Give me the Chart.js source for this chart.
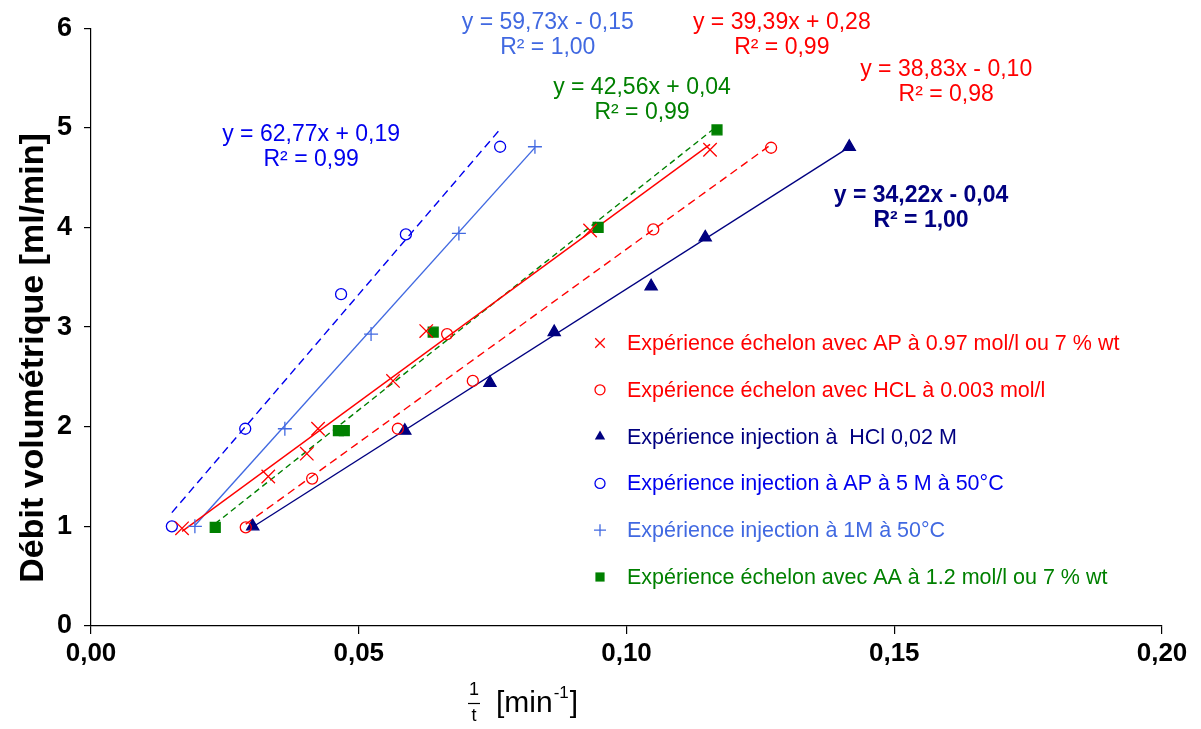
<!DOCTYPE html>
<html><head><meta charset="utf-8">
<script src="https://cdn.jsdelivr.net/npm/chart.js@4.4.1/dist/chart.umd.min.js"></script>
<style>html,body{margin:0;padding:0;background:#fff;}#wrap{width:1201px;height:729px;}</style>
</head><body><div id="wrap"><canvas id="c" width="1201" height="729"></canvas></div>
<script>
// ---- data ----
const seriesNames = [
  "Expérience échelon avec AP à 0.97 mol/l ou 7 % wt",
  "Expérience échelon avec HCL à 0.003 mol/l",
  "Expérience injection à  HCl 0,02 M",
  "Expérience injection à AP à 5 M à 50°C",
  "Expérience injection à 1M à 50°C",
  "Expérience échelon avec AA à 1.2 mol/l ou 7 % wt"
];
const xAP   = [0.0170, 0.0331, 0.0403, 0.0424, 0.0564, 0.0626, 0.0932, 0.1156];
const yAP   = [0.98, 1.50, 1.73, 1.98, 2.46, 2.96, 3.97, 4.78];
const xHCL  = [0.0289, 0.0413, 0.0573, 0.0665, 0.0713, 0.1050, 0.1270];
const yHCL  = [0.99, 1.48, 1.98, 2.93, 2.46, 3.98, 4.80];
const xHCl  = [0.0302, 0.0586, 0.0745, 0.0865, 0.1046, 0.1147, 0.1416];
const yHCl  = [1.00, 1.96, 2.44, 2.95, 3.41, 3.90, 4.81];
const xAP5  = [0.0151, 0.0288, 0.0467, 0.0588, 0.0764];
const yAP5  = [1.00, 1.98, 3.33, 3.93, 4.81];
const x1M   = [0.0194, 0.0362, 0.0523, 0.0687, 0.0829];
const y1M   = [1.00, 1.98, 2.93, 3.94, 4.81];
const xAA   = [0.0232, 0.0462, 0.0473, 0.0639, 0.0947, 0.1169];
const yAA   = [0.99, 1.96, 1.96, 2.95, 4.00, 4.98];
const slopes     = [39.39, 38.83, 34.22, 62.77, 59.73, 42.56];
const intercepts = [0.28, -0.10, -0.04, 0.19, -0.15, 0.04];
const r2Values   = [0.99, 0.98, 1.00, 0.99, 1.00, 0.99];
const xTickValues = [0, 0.05, 0.10, 0.15, 0.20];
const yTickValues = [0, 1, 2, 3, 4, 5, 6];

// ---- styles ----
const colors = ['#ff0000', '#ff0000', '#000080', '#0000ee', '#4169e1', '#008000'];
const styles = [
  {pointStyle:'crossRot', radius:9.5, fill:false, dash:[]},
  {pointStyle:'circle', radius:5.5, fill:false, dash:[8,5]},
  {pointStyle:'triangle', radius:7, fill:true, dash:[]},
  {pointStyle:'circle', radius:5.5, fill:false, dash:[8,5]},
  {pointStyle:'cross', radius:7, fill:false, dash:[]},
  {pointStyle:'rect', radius:7, fill:true, dash:[6,4]}
];
const xs = [xAP, xHCL, xHCl, xAP5, x1M, xAA];
const ys = [yAP, yHCL, yHCl, yAP5, y1M, yAA];
// annotation anchors (data units) for equation labels
const annX = [0.1290, 0.1597, 0.1550, 0.0411, 0.0853, 0.1029];
const annY = [6.06, 5.58, 4.32, 4.93, 6.06, 5.40];
const annBold = [false, false, true, false, false, false];

const fmt = v => v.toFixed(2).replace('.', ',');
function eqText(i){
  const b = intercepts[i];
  return 'y = ' + fmt(slopes[i]) + 'x ' + (b < 0 ? '- ' : '+ ') + fmt(Math.abs(b));
}

const datasets = [];
for (let i = 0; i < 6; i++) {
  const xmin = Math.min(...xs[i]), xmax = Math.max(...xs[i]);
  datasets.push({
    label: 'trend' + i,
    data: [{x:xmin, y:slopes[i]*xmin+intercepts[i]}, {x:xmax, y:slopes[i]*xmax+intercepts[i]}],
    showLine: true, pointRadius: 0, borderColor: colors[i], borderWidth: 1.4,
    borderDash: styles[i].dash, fill: false, order: 2
  });
}
for (let i = 0; i < 6; i++) {
  datasets.push({
    label: seriesNames[i],
    data: xs[i].map((x, k) => ({x, y: ys[i][k]})),
    showLine: false,
    pointStyle: styles[i].pointStyle,
    pointRadius: styles[i].radius,
    pointHoverRadius: styles[i].radius,
    borderColor: colors[i],
    backgroundColor: styles[i].fill ? colors[i] : 'rgba(0,0,0,0)',
    pointBorderWidth: 1.3,
    order: 1
  });
}

function drawMarker(ctx, style, color, x, y, r) {
  ctx.save();
  ctx.strokeStyle = color; ctx.fillStyle = color; ctx.lineWidth = 1.3;
  ctx.beginPath();
  if (style === 'crossRot') {
    const d = r * 0.7071;
    ctx.moveTo(x-d, y-d); ctx.lineTo(x+d, y+d); ctx.moveTo(x+d, y-d); ctx.lineTo(x-d, y+d); ctx.stroke();
  } else if (style === 'cross') {
    ctx.moveTo(x-r, y); ctx.lineTo(x+r, y); ctx.moveTo(x, y-r); ctx.lineTo(x, y+r); ctx.stroke();
  } else if (style === 'circle') {
    ctx.arc(x, y, r, 0, Math.PI*2); ctx.stroke();
  } else if (style === 'triangle') {
    ctx.moveTo(x, y - r); ctx.lineTo(x + r*0.866, y + r*0.5); ctx.lineTo(x - r*0.866, y + r*0.5); ctx.closePath(); ctx.fill();
  } else if (style === 'rect') {
    ctx.rect(x - r*0.7071, y - r*0.7071, r*1.414, r*1.414); ctx.fill();
  }
  ctx.restore();
}

const overlay = {
  id: 'overlay',
  afterDraw(chart) {
    const ctx = chart.ctx, sx = chart.scales.x, sy = chart.scales.y;
    ctx.save();
    // equations
    ctx.textAlign = 'center'; ctx.textBaseline = 'middle';
    for (let i = 0; i < 6; i++) {
      const px = sx.getPixelForValue(annX[i]), py = sy.getPixelForValue(annY[i]);
      ctx.font = (annBold[i] ? 'bold ' : '') + '23px "Liberation Sans", Arial, sans-serif';
      ctx.fillStyle = colors[i];
      ctx.fillText(eqText(i), px, py);
      ctx.fillText('R² = ' + fmt(r2Values[i]), px, py + 25);
    }
    // legend
    const legMarkers = [9*0.75, 5, 6, 5, 6, 6.5];
    ctx.textAlign = 'left';
    ctx.font = '21.5px "Liberation Sans", Arial, sans-serif';
    for (let i = 0; i < 6; i++) {
      const y = 343 + i * 46.8;
      drawMarker(ctx, styles[i].pointStyle, colors[i], 600, y, legMarkers[i]);
      ctx.fillStyle = colors[i];
      ctx.fillText(seriesNames[i], 627, y + 1);
    }
    // y title
    ctx.save();
    ctx.translate(34, 358);
    ctx.rotate(-Math.PI/2);
    ctx.textAlign = 'center'; ctx.textBaseline = 'middle';
    ctx.font = 'bold 34px "Liberation Sans", Arial, sans-serif';
    ctx.fillStyle = '#000';
    ctx.fillText('Débit volumétrique [ml/min]', 0, 0);
    ctx.restore();
    // x title
    ctx.fillStyle = '#000'; ctx.strokeStyle = '#000';
    ctx.textAlign = 'center'; ctx.textBaseline = 'middle';
    ctx.font = '18px "Liberation Sans", Arial, sans-serif';
    ctx.fillText('1', 474, 690);
    ctx.fillText('t', 474, 716);
    ctx.lineWidth = 1.2; ctx.beginPath(); ctx.moveTo(468, 703.5); ctx.lineTo(480, 703.5); ctx.stroke();
    ctx.textAlign = 'left'; ctx.textBaseline = 'alphabetic';
    ctx.font = '30px "Liberation Sans", Arial, sans-serif';
    ctx.fillText('[min', 496, 712);
    let w = ctx.measureText('[min').width;
    ctx.font = '17px "Liberation Sans", Arial, sans-serif';
    ctx.fillText('-1', 496 + w + 1, 698);
    const w2 = ctx.measureText('-1').width;
    ctx.font = '30px "Liberation Sans", Arial, sans-serif';
    ctx.fillText(']', 496 + w + w2 + 2, 712);
    ctx.restore();
  }
};

new Chart(document.getElementById('c'), {
  type: 'scatter',
  data: { datasets },
  options: {
    responsive: false, animation: false, devicePixelRatio: 1,
    layout: { padding: { top: 26, right: 39, left: 0, bottom: 0 } },
    plugins: { legend: { display: false }, tooltip: { enabled: false } },
    scales: {
      x: {
        type: 'linear', min: 0, max: 0.2,
        afterBuildTicks: s => { s.ticks = xTickValues.map(v => ({value: v})); },
        afterFit: s => { s.height = 103; },
        ticks: { color: '#000', padding: 4, maxRotation: 0,
          font: { family: '"Liberation Sans", Arial, sans-serif', size: 26, weight: 'bold' },
          callback: v => fmt(v) },
        grid: { drawOnChartArea: false, drawTicks: true, tickLength: 8, color: '#000', lineWidth: 1.2 },
        border: { display: true, color: '#000', width: 1.2 }
      },
      y: {
        type: 'linear', min: 0, max: 6,
        afterBuildTicks: s => { s.ticks = yTickValues.map(v => ({value: v})); },
        afterFit: s => { s.width = 91; },
        ticks: { color: '#000', padding: 12,
          font: { family: '"Liberation Sans", Arial, sans-serif', size: 27, weight: 'bold' },
          callback: v => String(v) },
        grid: { drawOnChartArea: false, drawTicks: true, tickLength: 7, color: '#000', lineWidth: 1.2 },
        border: { display: true, color: '#000', width: 1.2 }
      }
    }
  },
  plugins: [overlay]
});
</script></body></html>
